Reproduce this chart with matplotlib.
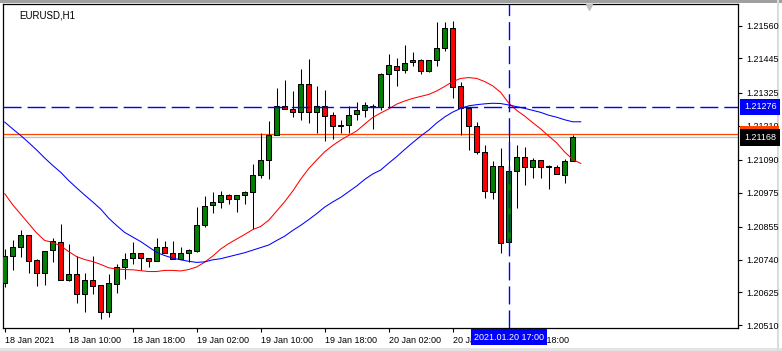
import matplotlib
matplotlib.use("Agg")
import matplotlib.pyplot as plt
import matplotlib.transforms as mtransforms
from matplotlib.patches import Rectangle

plt.rcParams['font.family'] = ['Liberation Sans', 'DejaVu Sans']

symbol_title = "EURUSD,H1"

opens = [1.20658, 1.20753, 1.20783, 1.20825, 1.20737, 1.20694, 1.20772, 1.20800, 1.20670, 1.20691,
         1.20618, 1.20667, 1.20650, 1.20555, 1.20656, 1.20713, 1.20744, 1.20762, 1.20744, 1.20734,
         1.20783, 1.20762, 1.20741, 1.20762, 1.20771, 1.20860, 1.20930, 1.20941, 1.20965, 1.20951,
         1.20965, 1.20976, 1.21035, 1.21088, 1.21176, 1.21277, 1.21267, 1.21256, 1.21354, 1.21256,
         1.21277, 1.21246, 1.21211, 1.21211, 1.21249, 1.21263, 1.21274, 1.21274, 1.21390, 1.21418,
         1.21404, 1.21432, 1.21439, 1.21400, 1.21439, 1.21480, 1.21551, 1.21347, 1.21270, 1.21207,
         1.21116, 1.20976, 1.21067, 1.20800, 1.21049, 1.21098, 1.21063, 1.21088, 1.21067, 1.21063,
         1.21035, 1.21086]

closes = [1.20752, 1.20784, 1.20825, 1.20736, 1.20694, 1.20771, 1.20804, 1.20670, 1.20689, 1.20618,
          1.20667, 1.20649, 1.20555, 1.20657, 1.20713, 1.20741, 1.20762, 1.20744, 1.20734, 1.20783,
          1.20762, 1.20741, 1.20762, 1.20772, 1.20860, 1.20927, 1.20941, 1.20965, 1.20951, 1.20965,
          1.20976, 1.21035, 1.21088, 1.21176, 1.21277, 1.21267, 1.21256, 1.21354, 1.21256, 1.21277,
          1.21242, 1.21207, 1.21207, 1.21246, 1.21263, 1.21281, 1.21277, 1.21390, 1.21421, 1.21404,
          1.21428, 1.21439, 1.21400, 1.21439, 1.21480, 1.21551, 1.21344, 1.21270, 1.21207, 1.21116,
          1.20979, 1.21067, 1.20797, 1.21049, 1.21098, 1.21063, 1.21088, 1.21065, 1.21065, 1.21039,
          1.21084, 1.21168]

highs = [1.20776, 1.20808, 1.20843, 1.20825, 1.20743, 1.20771, 1.20815, 1.20864, 1.20794, 1.20752,
         1.20694, 1.20753, 1.20650, 1.20691, 1.20723, 1.20762, 1.20803, 1.20762, 1.20744, 1.20816,
         1.20804, 1.20804, 1.20783, 1.20776, 1.20923, 1.20963, 1.20976, 1.20979, 1.20969, 1.20965,
         1.20979, 1.21075, 1.21183, 1.21226, 1.21342, 1.21370, 1.21331, 1.21408, 1.21442, 1.21349,
         1.21334, 1.21256, 1.21228, 1.21277, 1.21291, 1.21291, 1.21284, 1.21393, 1.21460, 1.21446,
         1.21491, 1.21467, 1.21442, 1.21439, 1.21573, 1.21573, 1.21576, 1.21364, 1.21275, 1.21221,
         1.21142, 1.21085, 1.21130, 1.21185, 1.21143, 1.21133, 1.21095, 1.21088, 1.21070, 1.21070,
         1.21091, 1.21178]

lows = [1.20644, 1.20705, 1.20750, 1.20694, 1.20647, 1.20652, 1.20731, 1.20670, 1.20666, 1.20586,
        1.20557, 1.20618, 1.20530, 1.20539, 1.20621, 1.20673, 1.20726, 1.20703, 1.20713, 1.20734,
        1.20762, 1.20741, 1.20741, 1.20733, 1.20767, 1.20855, 1.20902, 1.20919, 1.20934, 1.20905,
        1.20934, 1.20847, 1.21025, 1.21021, 1.21176, 1.21267, 1.21239, 1.21228, 1.21218, 1.21183,
        1.21155, 1.21162, 1.21183, 1.21183, 1.21228, 1.21239, 1.21197, 1.21264, 1.21270, 1.21350,
        1.21393, 1.21417, 1.21390, 1.21397, 1.21418, 1.21472, 1.21305, 1.21176, 1.21125, 1.21109,
        1.20957, 1.20951, 1.20762, 1.20800, 1.20919, 1.21002, 1.21027, 1.21025, 1.20986, 1.21039,
        1.21007, 1.21086]

ma_fast = [1.20971, 1.20932, 1.20899, 1.20866, 1.20833, 1.20807, 1.20800, 1.20788, 1.20768, 1.20750,
           1.20740, 1.20733, 1.20723, 1.20711, 1.20707, 1.20705, 1.20704, 1.20701, 1.20698, 1.20698,
           1.20702, 1.20702, 1.20700, 1.20705, 1.20714, 1.20731, 1.20752, 1.20777, 1.20796, 1.20812,
           1.20828, 1.20845, 1.20856, 1.20878, 1.20910, 1.20943, 1.20980, 1.21022, 1.21059, 1.21089,
           1.21118, 1.21140, 1.21159, 1.21175, 1.21191, 1.21215, 1.21238, 1.21254, 1.21268, 1.21285,
           1.21296, 1.21305, 1.21312, 1.21319, 1.21331, 1.21347, 1.21364, 1.21375, 1.21378, 1.21375,
           1.21364, 1.21349, 1.21326, 1.21289, 1.21263, 1.21243, 1.21220, 1.21198, 1.21173, 1.21149,
           1.21117, 1.21091, 1.21077]

ma_slow = [1.21222, 1.21198, 1.21175, 1.21150, 1.21124, 1.21096, 1.21070, 1.21046, 1.21017, 1.20991,
           1.20966, 1.20942, 1.20917, 1.20885, 1.20859, 1.20835, 1.20819, 1.20803, 1.20784, 1.20765,
           1.20754, 1.20745, 1.20739, 1.20734, 1.20730, 1.20732, 1.20739, 1.20743, 1.20750, 1.20757,
           1.20764, 1.20773, 1.20782, 1.20791, 1.20807, 1.20822, 1.20842, 1.20860, 1.20880, 1.20901,
           1.20924, 1.20942, 1.20958, 1.20978, 1.20998, 1.21021, 1.21040, 1.21054, 1.21078, 1.21101,
           1.21126, 1.21150, 1.21173, 1.21194, 1.21219, 1.21240, 1.21257, 1.21270, 1.21279, 1.21283,
           1.21286, 1.21288, 1.21287, 1.21282, 1.21276, 1.21270, 1.21263, 1.21256, 1.21246, 1.21239,
           1.21230, 1.21223, 1.21223]

time_tick_index = [0, 8, 16, 24, 32, 40, 48, 56, 64]
time_tick_labels = ["18 Jan 2021", "18 Jan 10:00", "18 Jan 18:00", "19 Jan 02:00", "19 Jan 10:00",
                    "19 Jan 18:00", "20 Jan 02:00", "20 Jan 10:00", "20 Jan 18:00"]
price_ticks = [1.20510, 1.20625, 1.20740, 1.20855, 1.20975, 1.21090, 1.21210, 1.21325, 1.21445, 1.21560]

cross_index = 63
cross_time_label = "2021.01.20 17:00"
cross_price = 1.21276
bid_price = 1.21168
ask_price = 1.21181

W, H = 782, 351
fig = plt.figure(figsize=(W / 100, H / 100), dpi=100)
fig.patch.set_facecolor('white')

# window frame decorations (behind everything)
fig.patches.append(Rectangle((0, (H - 2.5) / H), 1, 2.5 / H, transform=fig.transFigure,
                             facecolor='#a0a0a0', edgecolor='none', zorder=-5))
fig.patches.append(Rectangle((0, 0), 1, 3 / H, transform=fig.transFigure,
                             facecolor='#e3e3e3', edgecolor='none', zorder=-5))
fig.patches.append(Rectangle((777 / W, 0), 1.5 / W, 1, transform=fig.transFigure,
                             facecolor='#dcdcdc', edgecolor='none', zorder=-5))

ax = fig.add_axes([3 / W, (H - 328) / H, (738 - 3) / W, (328 - 4) / H])
ax.set_facecolor('white')

n = len(opens)
xs = list(range(n))

# wicks
ax.vlines(xs, lows, highs, colors='black', linewidth=0.75, zorder=3)
# bodies
for i in range(n):
    o, c = opens[i], closes[i]
    col = '#008000' if c >= o else '#ff0000'
    h = abs(c - o)
    ax.bar(i, max(h, 1e-7), bottom=min(o, c), width=0.6, color=col,
           edgecolor='black', linewidth=0.75, zorder=4)

ax.plot(list(range(len(ma_fast))), ma_fast, color='#ff0000', linewidth=0.75, zorder=5)
ax.plot(list(range(len(ma_slow))), ma_slow, color='#0000ff', linewidth=0.75, zorder=5)

# bid / ask lines
ax.axhline(ask_price, color='#ff4500', linewidth=0.9, zorder=2)
ax.axhline(bid_price, color='#c0c0c0', linewidth=0.9, zorder=2)

# crosshair
ax.axhline(cross_price, color='#0000ff', linewidth=1.0, dashes=(13, 4.3), zorder=6)
ax.axvline(cross_index, color='#0000ff', linewidth=1.0, dashes=(13, 4.3), zorder=6)

ax.set_xlim(-0.2125, 91.66)
ax.set_ylim(1.20500, 1.21636)

ax.yaxis.tick_right()
ax.set_yticks(price_ticks)
ax.set_yticklabels(["%.5f" % p for p in price_ticks])
ax.set_xticks(time_tick_index)
ax.set_xticklabels(time_tick_labels, ha='left')
ax.tick_params(axis='y', which='both', direction='out', length=3, width=0.8, pad=3.2,
               labelsize=6.5, colors='black', right=True, left=False)
ax.tick_params(axis='x', which='both', direction='out', length=3, width=0.8, pad=3,
               labelsize=6.5, colors='black')
for lbl in ax.get_xticklabels():
    lbl.set_horizontalalignment('left')

for s in ax.spines.values():
    s.set_linewidth(0.9)
    s.set_color('black')

ax.text(16 / 735, 1 - 6 / 324, symbol_title, transform=ax.transAxes, fontsize=7,
        ha='left', va='top', color='black')

# price labels on axis
blend = mtransforms.blended_transform_factory(ax.transAxes, ax.transData)
def price_box(price, fc, tc, z):
    tr = mtransforms.offset_copy(blend, fig=fig, x=6, y=0, units='dots')
    ax.text(1.0, price, "%.5f" % price, transform=tr, fontsize=6.5, color=tc, ha='left',
            va='center', zorder=z, clip_on=False,
            bbox=dict(boxstyle='square,pad=0.4', facecolor=fc, edgecolor='none'))

price_box(cross_price, '#0000ff', 'white', 10)
price_box(ask_price, '#ff4500', 'white', 10)
price_box(bid_price, '#000000', 'white', 11)

# time label box
tr_t = mtransforms.offset_copy(mtransforms.blended_transform_factory(ax.transData, ax.transAxes),
                               fig=fig, x=0, y=-9, units='dots')
ax.text(cross_index, 0, cross_time_label, transform=tr_t, fontsize=6.5, color='white',
        ha='center', va='center', zorder=12, clip_on=False,
        bbox=dict(boxstyle='square,pad=0.35', facecolor='#0000ff', edgecolor='none'))

# chart shift marker
ax.plot([73], [1 - 3 / 324], transform=mtransforms.blended_transform_factory(ax.transData, ax.transAxes),
        marker='v', color='#c0c0c0', markersize=5, clip_on=False, zorder=8)

fig.savefig('out.png', dpi=100, facecolor='white')
